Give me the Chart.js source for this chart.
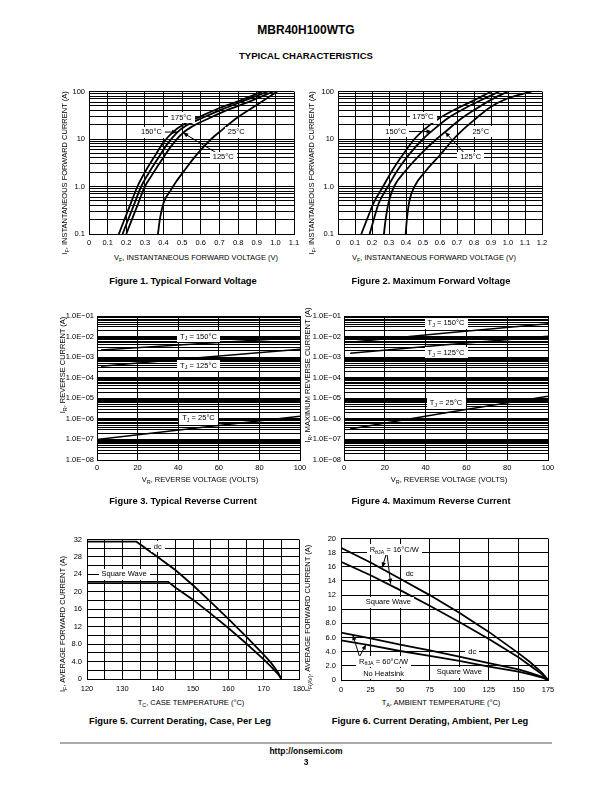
<!DOCTYPE html>
<html><head><meta charset="utf-8">
<script src="https://cdn.jsdelivr.net/npm/chart.js@4.4.1/dist/chart.umd.min.js"></script>
<style>
html,body{margin:0;padding:0;background:#fff;}
#page{position:relative;width:612px;height:792px;overflow:hidden;font-family:"Liberation Sans",Arial,Helvetica,sans-serif;color:#000;}
.t{position:absolute;white-space:nowrap;transform:translate(-50%,-50%);line-height:1;font-size:7.5px;}
.v{transform:translate(-50%,-50%) rotate(-90deg);}
.b{font-weight:bold;}
.cap{font-weight:bold;font-size:9.3px;}
sub{font-size:72%;vertical-align:-0.3em;line-height:0;}
canvas{position:absolute;}
#rule{position:absolute;left:60px;top:742px;width:492px;height:2px;background:#aaa;}
</style></head><body>
<div id="page">
 <div class="t b" style="left:306px;top:30px;font-size:12px">MBR40H100WTG</div>
 <div class="t b" style="left:306px;top:56px;font-size:9.5px">TYPICAL CHARACTERISTICS</div>

 <canvas id="c1"></canvas><canvas id="c2"></canvas>
 <canvas id="c3"></canvas><canvas id="c4"></canvas>
 <canvas id="c5"></canvas><canvas id="c6"></canvas>

 <div class="t v" style="left:65px;top:173px">I<sub>F</sub>, INSTANTANEOUS FORWARD CURRENT (A)</div>
 <div class="t" style="left:196px;top:258px">V<sub>F</sub>, INSTANTANEOUS FORWARD VOLTAGE (V)</div>
 <div class="t cap" style="left:183px;top:282px">Figure 1. Typical Forward Voltage</div>

 <div class="t v" style="left:312px;top:173px">I<sub>F</sub>, INSTANTANEOUS FORWARD CURRENT (A)</div>
 <div class="t" style="left:434px;top:258px">V<sub>F</sub>, INSTANTANEOUS FORWARD VOLTAGE (V)</div>
 <div class="t cap" style="left:431px;top:282px">Figure 2. Maximum Forward Voltage</div>

 <div class="t v" style="left:63px;top:365px">I<sub>R</sub>, REVERSE CURRENT (A)</div>
 <div class="t" style="left:200px;top:480px">V<sub>R</sub>, REVERSE VOLTAGE (VOLTS)</div>
 <div class="t cap" style="left:183px;top:502px">Figure 3. Typical Reverse Current</div>

 <div class="t v" style="left:308px;top:375px">I<sub>R</sub>, MAXIMUM REVERSE CURRENT (A)</div>
 <div class="t" style="left:449px;top:480px">V<sub>R</sub>, REVERSE VOLTAGE (VOLTS)</div>
 <div class="t cap" style="left:431px;top:502px">Figure 4. Maximum Reverse Current</div>

 <div class="t v" style="left:63px;top:624px">I<sub>F</sub>, AVERAGE FORWARD CURRENT (A)</div>
 <div class="t" style="left:191px;top:703px">T<sub>C</sub>, CASE TEMPERATURE (°C)</div>
 <div class="t cap" style="left:180px;top:722px">Figure 5. Current Derating, Case, Per Leg</div>

 <div class="t v" style="left:308px;top:618px">I<sub>F(AV)</sub>, AVERAGE FORWARD CURRENT (A)</div>
 <div class="t" style="left:441px;top:703px">T<sub>A</sub>, AMBIENT TEMPERATURE (°C)</div>
 <div class="t cap" style="left:430px;top:722px">Figure 6. Current Derating, Ambient, Per Leg</div>

 <div id="rule"></div>
 <div class="t b" style="left:306px;top:751px;font-size:8.5px">http://onsemi.com</div>
 <div class="t b" style="left:306px;top:762px;font-size:8.5px">3</div>
</div>
<script>
// ---------------- DATA ----------------
// Figure 1: typical forward voltage (V) vs instantaneous current (A)
const FIG1_T175_X = [0.16,0.19,0.22,0.26,0.30,0.35,0.40,0.45,0.50,0.60,0.70,0.80,0.93];
const FIG1_T175_Y = [0.1,0.2,0.4,1.0,2.0,4.2,8.5,14,19.5,30,45,62,100];
const FIG1_T150_X = [0.18,0.21,0.24,0.28,0.32,0.37,0.42,0.475,0.52,0.62,0.72,0.82,0.96];
const FIG1_T150_Y = [0.1,0.2,0.4,1.0,1.9,3.9,7.8,14,19,29,43,61,100];
const FIG1_T125_X = [0.20,0.23,0.26,0.30,0.34,0.39,0.44,0.50,0.55,0.65,0.75,0.85,0.99];
const FIG1_T125_Y = [0.1,0.2,0.4,1.0,1.8,3.6,7,13,18,28,42,59,100];
const FIG1_T25_X  = [0.37,0.38,0.40,0.44,0.47,0.52,0.58,0.656,0.70,0.80,0.90,1.01];
const FIG1_T25_Y  = [0.1,0.2,0.45,0.85,1.3,2.4,4.8,10,14,29,52,100];
// Figure 2: maximum forward voltage
const FIG2_T175_X = [0.137,0.17,0.21,0.265,0.32,0.38,0.45,0.50,0.60,0.70,0.80,0.90];
const FIG2_T175_Y = [0.1,0.2,0.45,1.0,2.2,4.6,10,15,28,44,65,100];
const FIG2_T150_X = [0.186,0.21,0.24,0.294,0.35,0.42,0.50,0.555,0.65,0.75,0.85,0.95];
const FIG2_T150_Y = [0.1,0.2,0.45,1.0,2.2,4.8,10,15,28,45,68,100];
const FIG2_T125_X = [0.27,0.28,0.30,0.33,0.40,0.48,0.58,0.63,0.72,0.82,0.91,1.0];
const FIG2_T125_Y = [0.1,0.2,0.5,1.0,2.2,4.6,10,14,26,45,70,100];
const FIG2_T25_X  = [0.398,0.405,0.42,0.45,0.52,0.60,0.68,0.72,0.80,0.90,1.00,1.14];
const FIG2_T25_Y  = [0.1,0.2,0.5,1.0,2.2,4.6,10,14,25,48,72,100];
// Figure 3: typical reverse current (A) vs reverse voltage (V)
const FIG3_HOT_X = [2,50,100];
const FIG3_T150_Y = [2.2e-3,4.5e-3,9.0e-3];
const FIG3_T125_Y = [3.6e-4,9.3e-4,2.4e-3];
const FIG3_T25_X = [0,50,100];
const FIG3_T25_Y = [1.0e-7,3.7e-7,1.35e-6];
// Figure 4: maximum reverse current
const FIG4_X = [3,50,100];
const FIG4_T150_Y = [5.3e-3,1.5e-2,4.2e-2];
const FIG4_T125_Y = [1.55e-3,4.0e-3,1.05e-2];
const FIG4_T25_Y  = [3.2e-7,2.0e-6,1.25e-5];
// Figure 5: current derating, case
const FIG5_DC_X = [120,134,140,145,150,155,160,165,170,172,174,175];
const FIG5_DC_Y = [31.5,31.5,28,25,21.5,17.7,13.8,9.8,5.6,3.8,1.6,0];
const FIG5_SQ_X = [120,143,145,150,155,160,165,170,172,174,175];
const FIG5_SQ_Y = [22.3,22.3,21,18.2,15,11.7,8.2,4.5,2.9,1.2,0];
// Figure 6: current derating, ambient
const FIG6_X = [0,25,50,75,100,125,150,160,170,175];
const FIG6_DC16_Y = [18.7,16.6,14.3,12.0,9.5,6.8,3.8,2.5,1.0,0];
const FIG6_SQ16_Y = [16.7,14.8,12.7,10.5,8.2,5.8,3.2,2.0,0.8,0];
const FIG6_DC60_Y = [6.7,5.9,5.0,4.2,3.3,2.4,1.5,1.0,0.45,0];
const FIG6_SQ60_Y = [5.6,4.9,4.1,3.4,2.7,1.9,1.2,0.8,0.35,0];

// ---------------- TICKS / LABELS (labels aligned with tick positions) ----------------
const FIG1_X_TICKS = [0,0.1,0.2,0.3,0.4,0.5,0.6,0.7,0.8,0.9,1.0,1.1];
const FIG1_X_LABELS = ['0','0.1','0.2','0.3','0.4','0.5','0.6','0.7','0.8','0.9','1.0','1.1'];
const FIG2_X_TICKS = [0,0.1,0.2,0.3,0.4,0.5,0.6,0.7,0.8,0.9,1.0,1.1,1.2];
const FIG2_X_LABELS = ['0','0.1','0.2','0.3','0.4','0.5','0.6','0.7','0.8','0.9','1.0','1.1','1.2'];
const FWD_Y_DECADES = [0.1,1,10,100];
const FWD_Y_LABELS = ['0.1','1.0','10','100'];
const REV_X_TICKS = [0,20,40,60,80,100];
const REV_X_LABELS = ['0','20','40','60','80','100'];
const REV_Y_DECADES = [1e-8,1e-7,1e-6,1e-5,1e-4,1e-3,1e-2,1e-1];
const REV_Y_LABELS = ['1.0E\u221208','1.0E\u221207','1.0E\u221206','1.0E\u221205','1.0E\u221204','1.0E\u221203','1.0E\u221202','1.0E\u221201'];
const FIG5_X_TICKS  = [120,125,130,135,140,145,150,155,160,165,170,175,180];
const FIG5_X_LABELS = ['120','','130','','140','','150','','160','','170','','180'];
const FIG5_Y_TICKS  = [0,2,4,6,8,10,12,14,16,18,20,22,24,26,28,30,32];
const FIG5_Y_LABELS = ['0','','4.0','','8.0','','12','','16','','20','','24','','28','','32'];
const FIG6_X_TICKS = [0,25,50,75,100,125,150,175];
const FIG6_X_LABELS = ['0','25','50','75','100','125','150','175'];
const FIG6_Y_TICKS = [0,2,4,6,8,10,12,14,16,18,20];
const FIG6_Y_LABELS = ['0','2.0','4.0','6.0','8.0','10','12','14','16','18','20'];

// ---------------- ANNOTATIONS ----------------
const FIG1_NOTES = [
  {line:[[0.551,28],[0.59,28]]}, {text:'175°C', at:[0.495,28]},
  {arrow:[[0.39,14],[0.472,14]]}, {text:'150°C', at:[0.335,14]},
  {text:'25°C', at:[0.79,14]},
  {arrow:[[0.68,5.2],[0.505,13.5]]}, {text:'125°C', at:[0.72,4.1]}
];
const FIG2_NOTES = [
  {line:[[0.562,28.8],[0.6,28.8]]}, {text:'175°C', at:[0.50,28.8]},
  {arrow:[[0.40,14.4],[0.55,14.4]]}, {text:'150°C', at:[0.34,14.4]},
  {text:'25°C', at:[0.84,14.3]},
  {arrow:[[0.74,5.2],[0.63,14]]}, {text:'125°C', at:[0.78,4.1]}
];
const FIG3_NOTES = [
  {text:'T_{J} = 150°C', at:[50,1.0e-2]},
  {text:'T_{J} = 125°C', at:[50,3.8e-4]},
  {text:'T_{J} = 25°C', at:[50,1.1e-6]}
];
const FIG4_NOTES = [
  {text:'T_{J} = 150°C', at:[50,4.4e-2]},
  {text:'T_{J} = 125°C', at:[50,1.6e-3]},
  {text:'T_{J} = 25°C', at:[50,5.9e-6]}
];
const FIG5_NOTES = [
  {text:'dc', at:[140,30.3]},
  {text:'Square Wave', at:[130.5,24]}
];
const FIG6_NOTES = [
  {arrow:[[38,17.7],[35,15.9]]}, {arrow:[[39,17.7],[42,13.6]]},
  {text:'R_{θJA} = 16°C/W', at:[45,18.4]},
  {text:'dc', at:[58,15]}, {text:'Square Wave', at:[40,11]},
  {arrow:[[15.5,3.4],[10,6.35]]}, {arrow:[[16,3.4],[21,5.0]]},
  {text:'R_{θJA} = 60°C/W', at:[36,2.6]}, {text:'No Heatsink', at:[36,0.9]},
  {text:'dc', at:[111,4]}, {text:'Square Wave', at:[100,1.1]}
];

// ---------------- RENDERING ----------------
const FONT = '"Liberation Sans", Arial, Helvetica, sans-serif';
Chart.defaults.font.family = FONT;
Chart.defaults.color = '#000';

function logTicks(decades){
  const t=[];
  for(let i=0;i<decades.length-1;i++){ for(let k=1;k<10;k++) t.push(+(decades[i]*k).toPrecision(4)); }
  t.push(decades[decades.length-1]); return t;
}
function logLabels(decades, labels){
  const out=[];
  for(let i=0;i<decades.length-1;i++){ out.push(labels[i]); for(let k=2;k<10;k++) out.push(''); }
  out.push(labels[labels.length-1]); return out;
}
function series(xs, ys){ return xs.map((x,i)=>({x:x, y:ys[i]})); }

function parseRich(s){
  const out=[]; const re=/_\{([^}]*)\}/g; let last=0,m;
  while((m=re.exec(s))){ if(m.index>last) out.push([s.slice(last,m.index),0]); out.push([m[1],1]); last=re.lastIndex; }
  if(last<s.length) out.push([s.slice(last),0]); return out;
}
function drawRich(ctx, s, cx, cy){
  const size=7.5; const segs=parseRich(s);
  const f = sub => (sub? size*0.72 : size)+'px '+FONT;
  let w=0; segs.forEach(g=>{ctx.font=f(g[1]); g.w=ctx.measureText(g[0]).width; w+=g.w;});
  let x=cx-w/2;
  ctx.fillStyle='#fff';
  ctx.fillRect(Math.round(x-3), Math.round(cy-5.5), Math.round(w+6), 11);
  ctx.fillStyle='#000'; ctx.textAlign='left'; ctx.textBaseline='middle';
  segs.forEach(g=>{ctx.font=f(g[1]); ctx.fillText(g[0], x, cy + (g[1]? 2.2:0)); x+=g.w;});
}
function drawSeg(ctx, pts, arrow){
  ctx.strokeStyle='#000'; ctx.lineWidth=1;
  ctx.beginPath(); ctx.moveTo(pts[0][0],pts[0][1]); ctx.lineTo(pts[1][0],pts[1][1]); ctx.stroke();
  if(arrow){
    const [x1,y1]=pts[0],[x2,y2]=pts[1]; const a=Math.atan2(y2-y1,x2-x1); const L=5,W=2.2;
    ctx.fillStyle='#000'; ctx.beginPath(); ctx.moveTo(x2,y2);
    ctx.lineTo(x2-L*Math.cos(a)+W*Math.sin(a), y2-L*Math.sin(a)-W*Math.cos(a));
    ctx.lineTo(x2-L*Math.cos(a)-W*Math.sin(a), y2-L*Math.sin(a)+W*Math.cos(a));
    ctx.closePath(); ctx.fill();
  }
}
function notesPlugin(notes){
  return { id:'notes', afterDatasetsDraw(chart){
    const ctx=chart.ctx, xs=chart.scales.x, ys=chart.scales.y;
    const P = p => [xs.getPixelForValue(p[0]), ys.getPixelForValue(p[1])];
    ctx.save();
    notes.forEach(n => { if(n.line) drawSeg(ctx, n.line.map(P), false); if(n.arrow) drawSeg(ctx, n.arrow.map(P), true); });
    notes.forEach(n => { if(n.text){ const p=P(n.at); drawRich(ctx, n.text, p[0], p[1]); } });
    ctx.restore();
  }};
}
function axisCfg(a, pos, size){
  return {
    type: a.type || 'linear', position: pos, min: a.min, max: a.max,
    afterBuildTicks: s => { s.ticks = a.ticks.map(v => ({value:v})); },
    afterFit: s => { if(pos==='left') s.width = size; else s.height = size; },
    ticks: { autoSkip:false, maxRotation:0, minRotation:0, padding:a.pad, color:'#000',
             font:{size:7.5, family:FONT}, callback: (v, i) => (a.labels[i] !== undefined ? a.labels[i] : '') },
    grid: { color:'#000', lineWidth:1, drawTicks:false },
    border: { display:true, color:'#000', width:1 }
  };
}
function makeChart(id, area, pad, cfg){
  const cv=document.getElementById(id);
  const w=area[2]-area[0]+pad.l+pad.r, h=area[3]-area[1]+pad.t+pad.b;
  cv.width=w; cv.height=h; cv.style.width=w+'px'; cv.style.height=h+'px';
  cv.style.left=(area[0]-pad.l)+'px'; cv.style.top=(area[1]-pad.t)+'px';
  return new Chart(cv, {
    type:'line',
    data:{ datasets: cfg.series.map(d => ({ data:d, borderColor:'#000', borderWidth:cfg.lw, pointRadius:0,
      fill:false, cubicInterpolationMode: cfg.mono ? 'monotone' : 'default', tension:0 })) },
    options:{
      responsive:false, animation:false, devicePixelRatio:1,
      layout:{ padding:{ left:0, top:pad.t, right:pad.r, bottom:0 } },
      plugins:{ legend:{display:false}, tooltip:{enabled:false} },
      scales:{ x: axisCfg(cfg.x,'bottom',pad.b), y: axisCfg(cfg.y,'left',pad.l) }
    },
    plugins:[notesPlugin(cfg.notes)]
  });
}

const fwdY = {type:'logarithmic', min:0.1, max:100, ticks:logTicks(FWD_Y_DECADES), pad:4, labels:logLabels(FWD_Y_DECADES, FWD_Y_LABELS)};
const revY = {type:'logarithmic', min:1e-8, max:1e-1, ticks:logTicks(REV_Y_DECADES), pad:3, labels:logLabels(REV_Y_DECADES, REV_Y_LABELS)};

makeChart('c1', [89,91,294,234], {l:30,t:8,r:12,b:18}, {
  lw:1.8, mono:true, notes:FIG1_NOTES,
  x:{min:0, max:1.1, ticks:FIG1_X_TICKS, pad:4.5, labels:FIG1_X_LABELS}, y:fwdY,
  series:[series(FIG1_T175_X,FIG1_T175_Y), series(FIG1_T150_X,FIG1_T150_Y), series(FIG1_T125_X,FIG1_T125_Y), series(FIG1_T25_X,FIG1_T25_Y)]
});
makeChart('c2', [338,91,542,234], {l:30,t:8,r:12,b:18}, {
  lw:1.8, mono:true, notes:FIG2_NOTES,
  x:{min:0, max:1.2, ticks:FIG2_X_TICKS, pad:4.5, labels:FIG2_X_LABELS}, y:fwdY,
  series:[series(FIG2_T175_X,FIG2_T175_Y), series(FIG2_T150_X,FIG2_T150_Y), series(FIG2_T125_X,FIG2_T125_Y), series(FIG2_T25_X,FIG2_T25_Y)]
});
makeChart('c3', [97,316,300,460], {l:36,t:8,r:12,b:16}, {
  lw:1.5, mono:false, notes:FIG3_NOTES,
  x:{min:0, max:100, ticks:REV_X_TICKS, pad:3, labels:REV_X_LABELS}, y:revY,
  series:[series(FIG3_HOT_X,FIG3_T150_Y), series(FIG3_HOT_X,FIG3_T125_Y), series(FIG3_T25_X,FIG3_T25_Y)]
});
makeChart('c4', [344,316,548,460], {l:36,t:8,r:12,b:16}, {
  lw:1.5, mono:false, notes:FIG4_NOTES,
  x:{min:0, max:100, ticks:REV_X_TICKS, pad:3, labels:REV_X_LABELS}, y:revY,
  series:[series(FIG4_X,FIG4_T150_Y), series(FIG4_X,FIG4_T125_Y), series(FIG4_X,FIG4_T25_Y)]
});
makeChart('c5', [87,538,299,679], {l:30,t:8,r:12,b:18}, {
  lw:1.8, mono:false, notes:FIG5_NOTES,
  x:{min:120, max:180, ticks:FIG5_X_TICKS, pad:5.5, labels:FIG5_X_LABELS},
  y:{min:0, max:32, ticks:FIG5_Y_TICKS, pad:5, labels:FIG5_Y_LABELS},
  series:[series(FIG5_DC_X,FIG5_DC_Y), series(FIG5_SQ_X,FIG5_SQ_Y)]
});
makeChart('c6', [341,537,548,680], {l:30,t:8,r:12,b:18}, {
  lw:1.8, mono:false, notes:FIG6_NOTES,
  x:{min:0, max:175, ticks:FIG6_X_TICKS, pad:5.5, labels:FIG6_X_LABELS},
  y:{min:0, max:20, ticks:FIG6_Y_TICKS, pad:5, labels:FIG6_Y_LABELS},
  series:[series(FIG6_X,FIG6_DC16_Y), series(FIG6_X,FIG6_SQ16_Y), series(FIG6_X,FIG6_DC60_Y), series(FIG6_X,FIG6_SQ60_Y)]
});
</script>
</body></html>
